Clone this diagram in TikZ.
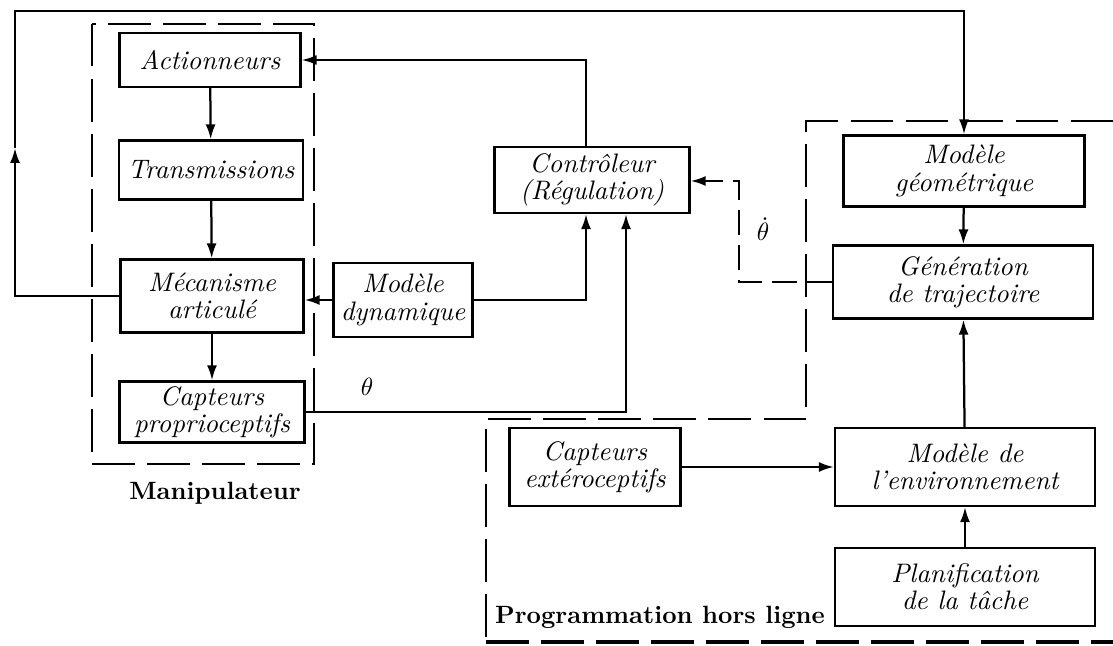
\documentclass[tikz,border=0pt]{standalone}
\usepackage{fontspec}
\usetikzlibrary{arrows.meta}
\begin{document}
\begin{tikzpicture}[x=0.4pt,y=-0.4pt,
  box/.style={draw,line width=0.9pt,rectangle,inner sep=1pt,align=center,
    font=\fontsize{10.7}{10.9}\selectfont\itshape},
  arr/.style={line width=0.9pt,-{Latex[length=6pt,width=4pt]}},
  grp/.style={line width=0.9pt,dash pattern=on 17pt off 5pt},
  dsh/.style={line width=0.9pt,dash pattern=on 10pt off 4pt},
  lbl/.style={font=\fontsize{10}{12}\selectfont\bfseries}]
\useasboundingbox (0,0) rectangle (1113,646);

% groups
\draw[grp] (92,24) rectangle (314,464);
\draw[grp] (1113,121) -- (806,121) -- (806,419) -- (486,419) -- (486,646);
\draw[grp,line width=1.4pt] (486,642) -- (1113,642);

% nodes
\node[box,minimum width=72.4pt,minimum height=21.6pt] (act) at (210,60) {Actionneurs};
\node[box,minimum width=73.6pt,minimum height=23.6pt] (trans) at (211,170) {Transmissions};
\node[box,minimum width=73.2pt,minimum height=29.2pt] (meca) at (212,296) {Mécanisme\\articulé};
\node[box,minimum width=74pt,minimum height=24.4pt] (capp) at (212,412) {Capteurs\\proprioceptifs};
\node[box,minimum width=55.6pt,minimum height=29.6pt] (dyn) at (403,300) {Modèle\\dynamique};
\node[box,minimum width=78pt,minimum height=26.4pt] (ctrl) at (592,180) {Contrôleur\\(Régulation)};
\node[box,minimum width=96.4pt,minimum height=28.4pt] (geo) at (964,171) {Modèle\\géométrique};
\node[box,minimum width=104pt,minimum height=29.2pt] (gen) at (963,282) {Génération\\de trajectoire};
\node[box,minimum width=68.4pt,minimum height=31.2pt] (cape) at (595,467) {Capteurs\\extéroceptifs};
\node[box,minimum width=104pt,minimum height=31.2pt] (env) at (965,467) {Modèle de\\l’environnement};
\node[box,minimum width=104pt,minimum height=31.2pt] (plan) at (965,587) {Planification\\de la tâche};

\node[lbl] (lman) at (215,493) {Manipulateur};
\node[lbl] (lprog) at (660,617) {Programmation hors ligne};
\node (lth) at (367,387) {$\theta$};
\node[inner sep=0pt] (lthd) at (763,229) {$\dot\theta$};

% helper coordinates
\coordinate (c1) at (586,0);
\coordinate (c2) at (626,0);
\coordinate (fbA) at (15,148);
\coordinate (fbL) at (15,11);
\coordinate (td) at (739,181);

% connectors
\draw[arr] (act) -- (trans);
\draw[arr] (trans) -- (meca);
\draw[arr] (meca) -- (capp);
\draw[arr] (dyn.west) -- (dyn.west -| meca.east);
\draw[arr] (dyn.east) -| (ctrl.south -| c1);
\draw[arr] (capp.east) -| (ctrl.south -| c2);
\draw[arr] (ctrl.north -| c1) |- (act.east);
\draw[arr] (meca.west) -| (fbA);
\draw[arr] (fbA) -- (fbL) -| (geo.north);
\draw[arr] (geo) -- (gen);
\draw[arr] (env) -- (gen);
\draw[arr] (plan) -- (env);
\draw[arr] (cape) -- (env);
\draw[dsh,arr] (gen.west) -| (td) -- (td -| ctrl.east);
\end{tikzpicture}
\end{document}
